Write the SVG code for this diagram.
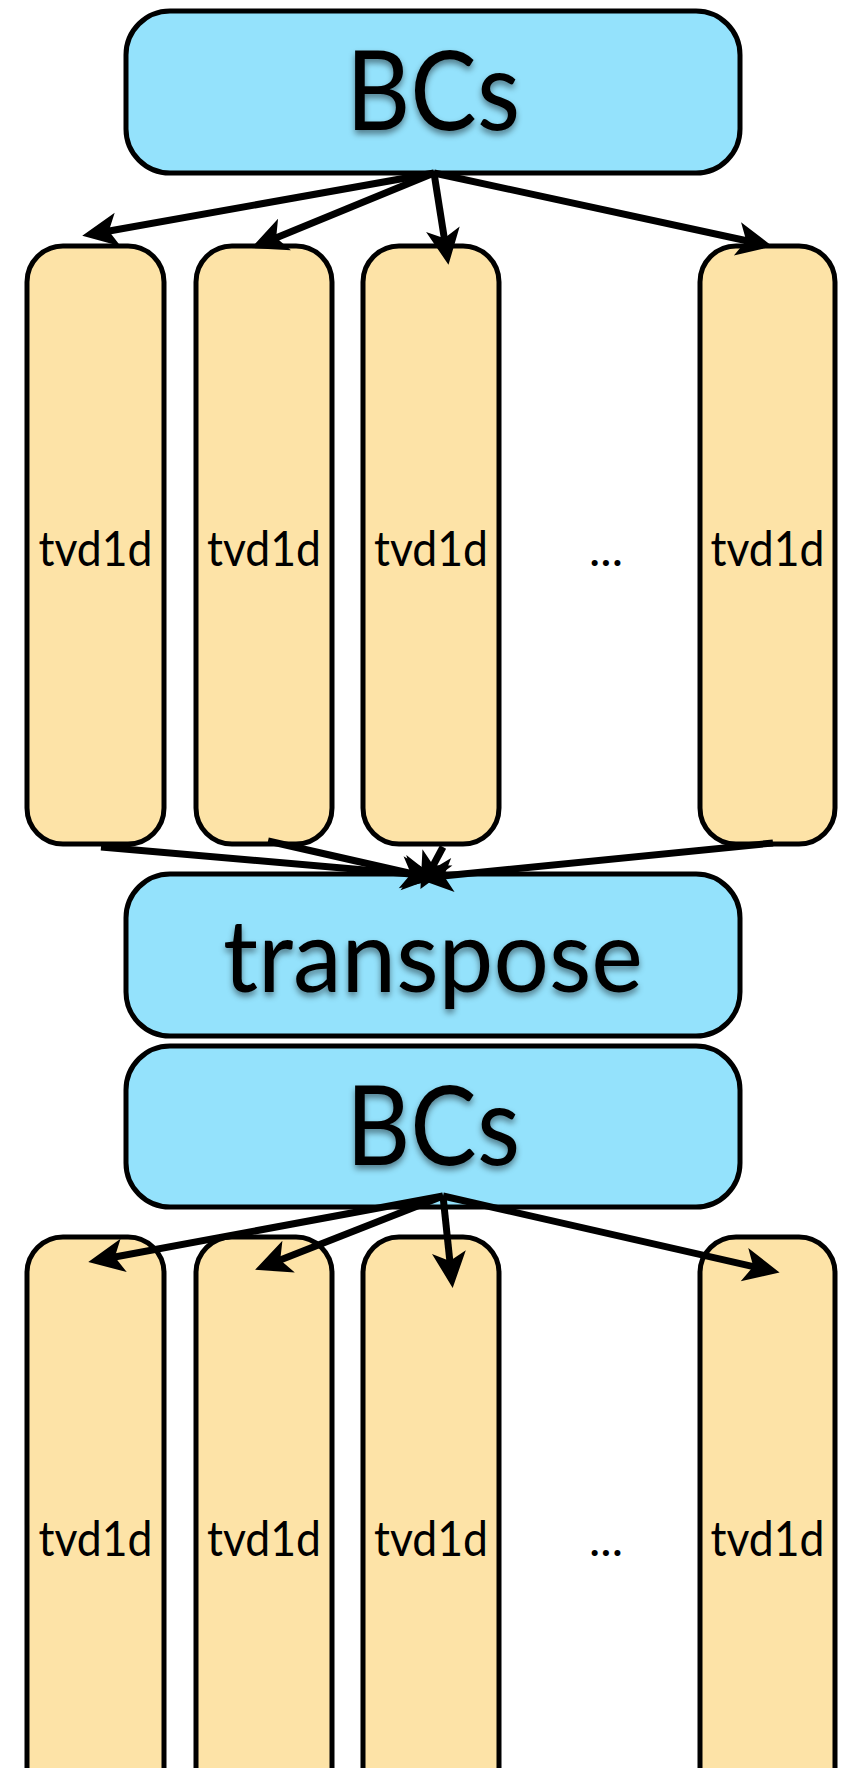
<svg xmlns="http://www.w3.org/2000/svg" width="853" height="1768" viewBox="0 0 853 1768">
  <defs>
    <style>
      .stage { fill: #94e2fc; stroke: #000; stroke-width: 5; }
      .col { fill: #fde3a7; stroke: #000; stroke-width: 5; }
      .big { font-family: Lato, "Liberation Sans", sans-serif; fill: #000; text-anchor: middle; filter: url(#shadow); }
      .lbl { font-family: Lato, "Liberation Sans", sans-serif; font-size: 48px; fill: #000; text-anchor: middle; }
      .edge { stroke: #000; stroke-width: 7; fill: none; marker-end: url(#head); }
    </style>
    <filter id="shadow" x="-20%" y="-20%" width="140%" height="160%">
      <feDropShadow dx="0" dy="4" stdDeviation="3" flood-color="#000" flood-opacity="0.45"/>
    </filter>
    <marker id="head" markerUnits="userSpaceOnUse" viewBox="-2 -20 40 40" refX="20" refY="0" markerWidth="40" markerHeight="40" orient="auto">
      <path d="M36,0 L0,-17 L9,0 L0,17 Z" fill="#000"/>
    </marker>
  </defs>

  <!-- first boundary-condition stage -->
  <g id="bcs1">
    <rect class="stage" x="126" y="11" width="614" height="162" rx="44"/>
    <text class="big" x="433" y="130" font-size="110" textLength="174" lengthAdjust="spacingAndGlyphs">BCs</text>
  </g>

  <!-- first row of 1-D solvers -->
  <g id="row1-a">
    <rect class="col" x="27" y="246" width="137" height="598" rx="36"/>
    <text class="lbl" x="95.5" y="566" textLength="114" lengthAdjust="spacingAndGlyphs">tvd1d</text>
  </g>
  <g id="row1-b">
    <rect class="col" x="196" y="246" width="136" height="598" rx="36"/>
    <text class="lbl" x="264" y="566" textLength="114" lengthAdjust="spacingAndGlyphs">tvd1d</text>
  </g>
  <g id="row1-c">
    <rect class="col" x="363" y="246" width="136" height="598" rx="36"/>
    <text class="lbl" x="431" y="566" textLength="114" lengthAdjust="spacingAndGlyphs">tvd1d</text>
  </g>
  <g id="row1-dots">
    <text class="lbl" x="606" y="566">...</text>
  </g>
  <g id="row1-d">
    <rect class="col" x="700" y="246" width="135" height="598" rx="36"/>
    <text class="lbl" x="767.5" y="566" textLength="114" lengthAdjust="spacingAndGlyphs">tvd1d</text>
  </g>

  <!-- transpose stage -->
  <g id="transpose">
    <rect class="stage" x="126" y="874" width="614" height="162" rx="44"/>
    <text class="big" x="433" y="992" font-size="100" textLength="420" lengthAdjust="spacingAndGlyphs">transpose</text>
  </g>

  <!-- second boundary-condition stage -->
  <g id="bcs2">
    <rect class="stage" x="126" y="1046" width="614" height="161" rx="44"/>
    <text class="big" x="433" y="1165" font-size="110" textLength="174" lengthAdjust="spacingAndGlyphs">BCs</text>
  </g>

  <!-- second row of 1-D solvers -->
  <g id="row2-a">
    <rect class="col" x="27" y="1237" width="137" height="600" rx="36"/>
    <text class="lbl" x="95.5" y="1556" textLength="114" lengthAdjust="spacingAndGlyphs">tvd1d</text>
  </g>
  <g id="row2-b">
    <rect class="col" x="196" y="1237" width="136" height="600" rx="36"/>
    <text class="lbl" x="264" y="1556" textLength="114" lengthAdjust="spacingAndGlyphs">tvd1d</text>
  </g>
  <g id="row2-c">
    <rect class="col" x="363" y="1237" width="136" height="600" rx="36"/>
    <text class="lbl" x="431" y="1556" textLength="114" lengthAdjust="spacingAndGlyphs">tvd1d</text>
  </g>
  <g id="row2-dots">
    <text class="lbl" x="606" y="1556">...</text>
  </g>
  <g id="row2-d">
    <rect class="col" x="700" y="1237" width="135" height="600" rx="36"/>
    <text class="lbl" x="767.5" y="1556" textLength="114" lengthAdjust="spacingAndGlyphs">tvd1d</text>
  </g>

  <!-- connectors, drawn over the boxes -->
  <g id="connectors">
    <!-- top BCs fan-out -->
    <line class="edge" x1="434" y1="173" x2="98" y2="233"/>
    <line class="edge" x1="434" y1="173" x2="266" y2="242"/>
    <line class="edge" x1="434" y1="173" x2="446" y2="249"/>
    <line class="edge" x1="434" y1="173" x2="757" y2="243"/>
    <!-- columns into transpose -->
    <line class="edge" x1="101" y1="847" x2="422" y2="875"/>
    <line class="edge" x1="268" y1="841" x2="422" y2="876"/>
    <line class="edge" x1="443" y1="847" x2="428" y2="875"/>
    <line class="edge" x1="773" y1="843" x2="433" y2="877"/>
    <!-- second BCs fan-out -->
    <line class="edge" x1="443" y1="1196" x2="104" y2="1259"/>
    <line class="edge" x1="443" y1="1196" x2="270" y2="1264"/>
    <line class="edge" x1="443" y1="1196" x2="451" y2="1272"/>
    <line class="edge" x1="443" y1="1196" x2="764" y2="1269"/>
  </g>
</svg>
